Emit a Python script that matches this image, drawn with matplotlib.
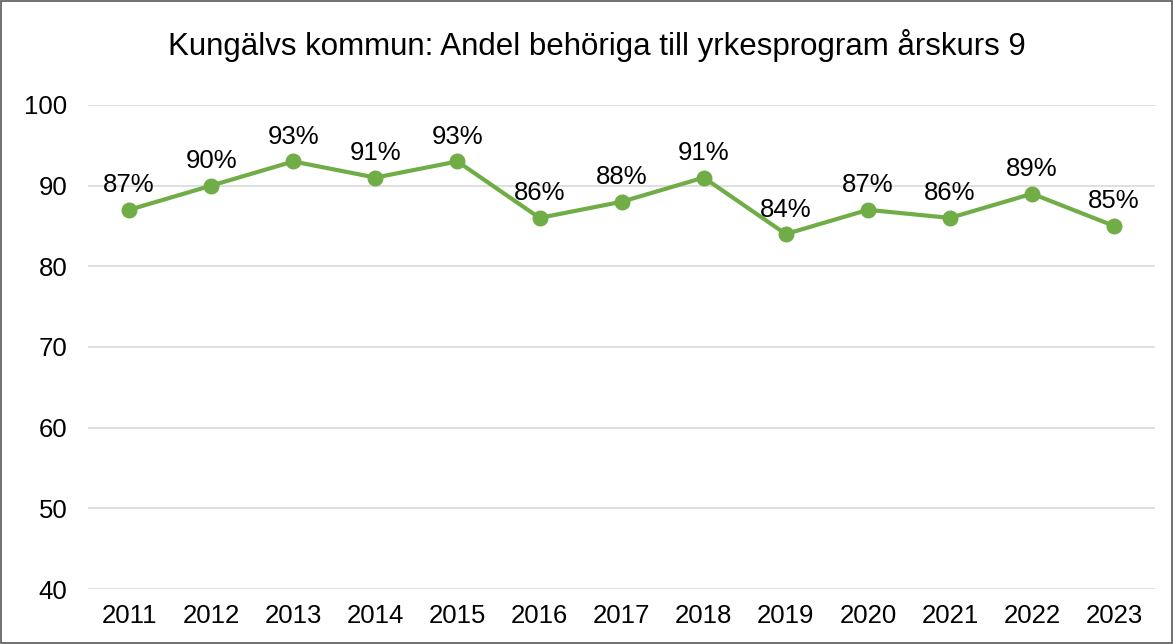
import matplotlib.pyplot as plt
from matplotlib.patches import Rectangle

plt.rcParams['font.family'] = ['Liberation Sans', 'DejaVu Sans']

years = ["2011", "2012", "2013", "2014", "2015", "2016", "2017",
         "2018", "2019", "2020", "2021", "2022", "2023"]
andel = [87, 90, 93, 91, 93, 86, 88, 91, 84, 87, 86, 89, 85]

fig = plt.figure(figsize=(11.74, 6.44), dpi=100)
ax = fig.add_axes([0.075, 0.0854, 0.909, 0.7516])

x = range(len(years))
ax.plot(x, andel, color="#70AD47", linewidth=3, marker="o", markersize=10.5)
for i, v in zip(x, andel):
    ax.annotate(f"{v}%", (i, v), xytext=(0, 9), textcoords="offset points",
                ha="center", va="bottom", fontsize=18.5)

ax.set_ylim(40, 100)
ax.set_xlim(-0.5, len(years) - 0.5)
ax.set_yticks(range(40, 101, 10))
ax.set_xticks(list(x))
ax.set_xticklabels(years)
ax.tick_params(axis="both", length=0, labelsize=18.5)
ax.tick_params(axis="y", pad=15)
ax.tick_params(axis="x", pad=11)
ax.grid(axis="y", color="#D9D9D9", linewidth=1.2)
ax.set_axisbelow(True)
for s in ax.spines.values():
    s.set_visible(False)

fig.text(0.508, 0.93, "Kungälvs kommun: Andel behöriga till yrkesprogram årskurs 9",
         ha="center", va="center", fontsize=22.5)

fig.patches.append(Rectangle((0.001, 0.001), 0.997, 0.997, transform=fig.transFigure,
                             fill=False, edgecolor="#595959", linewidth=1.2))

fig.savefig("out.png", dpi=100)
